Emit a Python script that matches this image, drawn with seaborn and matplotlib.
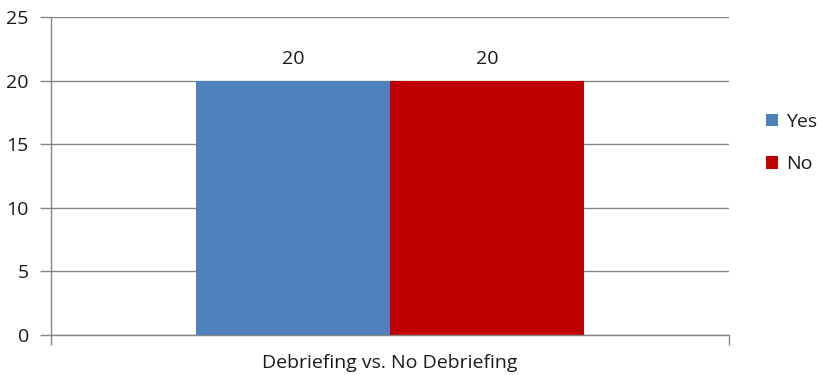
import matplotlib
matplotlib.use("Agg")
import matplotlib.pyplot as plt
import seaborn as sns
import pandas as pd

categories = ["Debriefing vs. No Debriefing"]
series = ["Yes", "No"]
yes_values = [20]
no_values = [20]
colors = ["#4F81BD", "#C00000"]

df = pd.DataFrame({
    "category": categories * 2,
    "series": ["Yes"] * len(categories) + ["No"] * len(categories),
    "value": yes_values + no_values,
})

sns.set_theme(style="white")
plt.rcParams["font.family"] = ["Open Sans", "DejaVu Sans"]

FS = 14
TXT = "#1a1a1a"

fig = plt.figure(figsize=(8.31, 3.75), dpi=100)
ax = fig.add_axes([51 / 831, 1 - 335 / 375, 678 / 831, 318 / 375])

sns.barplot(data=df, x="category", y="value", hue="series", hue_order=series,
            palette=colors, width=0.571, saturation=1, ax=ax, legend=True,
            edgecolor="none", linewidth=0)

ax.set_xlim(-0.5, 0.5)
ax.set_ylim(0, 25)
ax.set_yticks([0, 5, 10, 15, 20, 25])
ax.yaxis.grid(True, color="#868686", linewidth=1.0)
ax.set_axisbelow(True)
for side in ["top", "right"]:
    ax.spines[side].set_visible(False)
for side in ["left", "bottom"]:
    ax.spines[side].set_color("#868686")
    ax.spines[side].set_linewidth(1.0)

ax.tick_params(axis="y", which="major", direction="out", length=8, width=1,
               color="#868686", labelsize=FS, labelcolor=TXT, pad=8, left=True)
ax.set_xticks([0])
ax.set_xticklabels(categories)
ax.tick_params(axis="x", which="major", length=0, labelsize=FS, labelcolor=TXT, pad=14)
ax.set_xticks([-0.5, 0.5], minor=True)
ax.tick_params(axis="x", which="minor", direction="out", length=7, width=1,
               color="#868686", bottom=True)
ax.set_xlabel("")
ax.set_ylabel("")

for container in ax.containers:
    ax.bar_label(container, labels=[f"{v:g}" for v in container.datavalues],
                 padding=9, fontsize=FS, color=TXT)

handles, labels = ax.get_legend_handles_labels()
ax.legend(handles, labels, loc="upper left", bbox_to_anchor=(766 / 831, 1 - 113 / 375),
          bbox_transform=fig.transFigure, frameon=False, fontsize=FS,
          handlelength=0.6, handleheight=0.6, handletextpad=0.45, labelspacing=1.25,
          borderaxespad=0, borderpad=0, labelcolor=TXT)

fig.savefig("out.png", dpi=100, facecolor="white")
